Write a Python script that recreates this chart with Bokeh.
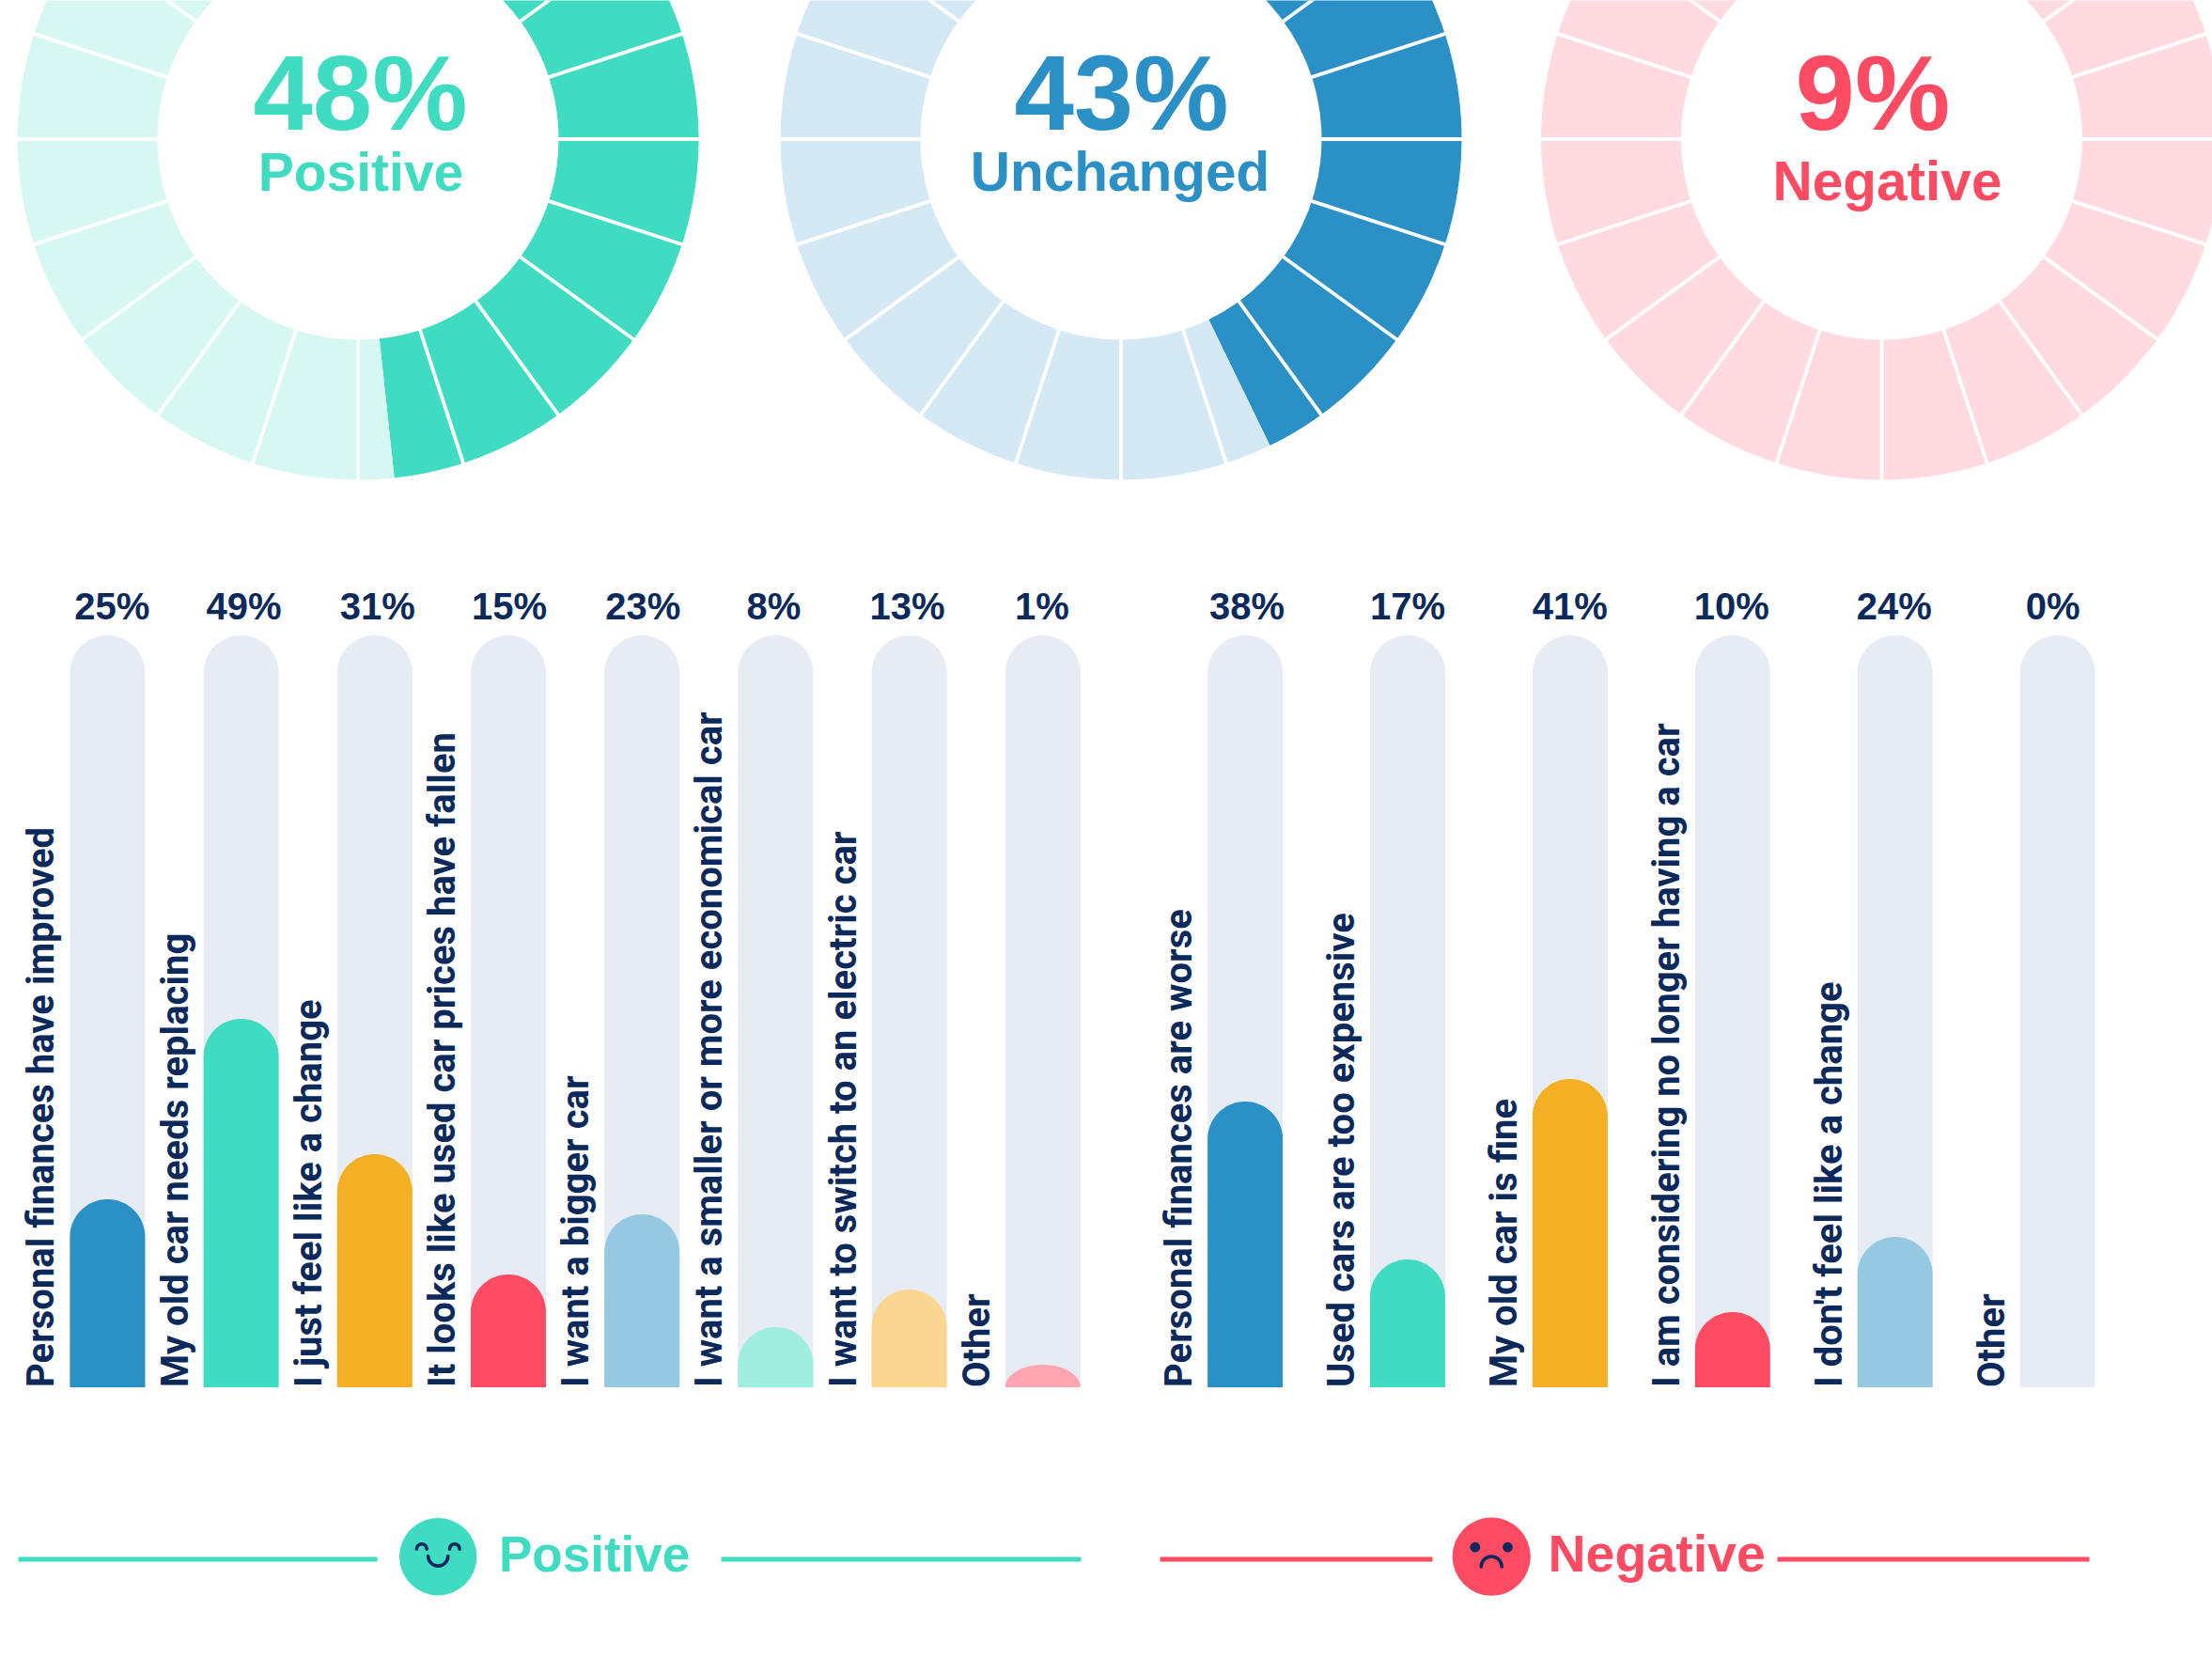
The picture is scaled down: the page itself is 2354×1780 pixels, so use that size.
import numpy as np
from bokeh.plotting import figure
from bokeh.embed import file_html
from bokeh.resources import INLINE
from bokeh.core.properties import value

# ---- data ----
donut_pct = [48.3, 42.8, 9]
donut_names = ["Positive", "Unchanged", "Negative"]
donut_big = ["48%", "43%", "9%"]

pos_labels = ["Personal finances have improved", "My old car needs replacing", "I just feel like a change",
              "It looks like used car prices have fallen", "I want a bigger car",
              "I want a smaller or more economical car", "I want to switch to an electric car", "Other"]
pos_texts = ["25%", "49%", "31%", "15%", "23%", "8%", "13%", "1%"]
pos_heights = [25, 49, 31, 15, 23, 8, 13, 3]

neg_labels = ["Personal finances are worse", "Used cars are too expensive", "My old car is fine",
              "I am considering no longer having a car", "I don't feel like a change", "Other"]
neg_texts = ["38%", "17%", "41%", "10%", "24%", "0%"]
neg_heights = [38, 17, 41, 10, 20, 0]

# ---- styles ----
TEAL, BLUE, RED, NAVY, YEL = "#3FDCC1", "#2B90C5", "#FD4B63", "#0B2A5B", "#F4AF24"
LT = ["#D7F8F2", "#D5E9F5", "#FFDAE0"]
DK = [TEAL, BLUE, RED]
TRACK = "#E7ECF4"
pos_cols = [BLUE, TEAL, YEL, RED, "#97C8E2", "#A0EEDF", "#FAD691", "#FEA5B1"]
neg_cols = [BLUE, TEAL, YEL, RED, "#97C8E2", TRACK]
FONT = value("Liberation Sans")
FONT3 = value("Roboto")
W, H = 2354, 1780
BL = 0.40  # the renderer draws alphabetic text this fraction of its size below the anchor


def Y(v):
    return H - np.asarray(v, dtype=float)


p = figure(width=W, height=H, x_range=(0, W), y_range=(0, H), min_border=0, outline_line_color=None,
           toolbar_location=None, output_backend="svg", x_axis_type=None, y_axis_type=None,
           background_fill_color="white", border_fill_color="white")
p.grid.visible = False


def hlabel(x, base, txt, size, color, align="center", font=FONT):
    p.text([x], Y([base - BL * size]), text=[txt], text_font=font, text_font_style="bold",
           text_font_size=f"{size}px", text_color=color, text_align=align, text_baseline="alphabetic")


# ---- donuts ----
cx = [380.5, 1192.5, 2002.0]
cy = 147.5
R0, R1 = 213.5, 362.5
big_x = [383, 1193, 1992.5]
name_x = [383.5, 1191.5, 2008]
name_base = [205.5, 205.5, 215.5]
name_size = [57, 58.5, 58.5]
for i, pct in enumerate(donut_pct):
    top = np.pi / 2
    split = top - pct / 100 * 2 * np.pi
    p.annular_wedge([cx[i]], Y([cy]), R0, R1, split, top, direction="anticlock", fill_color=DK[i], line_color=None)
    p.annular_wedge([cx[i]], Y([cy]), R0, R1, top, split, direction="anticlock", fill_color=LT[i], line_color=None)
    ang = np.arange(20) * 2 * np.pi / 20
    p.segment(cx[i] + (R0 - 2) * np.cos(ang), Y(cy) + (R0 - 2) * np.sin(ang),
              cx[i] + (R1 + 2) * np.cos(ang), Y(cy) + (R1 + 2) * np.sin(ang),
              line_color="white", line_width=3.8)
    hlabel(big_x[i], 144, donut_big[i], 114, DK[i])
    hlabel(name_x[i], name_base[i], donut_names[i], name_size[i], DK[i])


# ---- bars ----
BASE = 1475.5
PX = 8.0
RAD = 40.0
LAB = 40


def dome(xc, h):
    t = np.linspace(np.pi, 0, 61)
    px_h = h * PX
    ry = min(RAD, px_h)
    xs = [xc - RAD] + list(xc + RAD * np.cos(t)) + [xc + RAD]
    ys = [0.0] + list(px_h - ry + ry * np.sin(t)) + [0.0]
    return xs, list(Y(BASE) + np.array(ys))


def group(x0, step, labels, texts, heights, cols, tdx):
    for k in range(len(labels)):
        xc = x0 + step * k
        xs, ys = dome(xc, 100)
        p.patch(xs, ys, fill_color=TRACK, line_color=None)
        if heights[k] > 0:
            xs, ys = dome(xc, heights[k])
            p.patch(xs, ys, fill_color=cols[k], line_color=None)
        p.text([xc - RAD - 14.5 - BL * LAB], Y([BASE]), text=[labels[k]], angle=np.pi / 2, text_font=FONT3,
               text_font_style="bold", text_font_size=f"{LAB}px", text_color=NAVY,
               text_align="left", text_baseline="alphabetic")
        hlabel(xc + tdx[k], 660, texts[k], 40, NAVY)


group(113.9, 142.2, pos_labels, pos_texts, pos_heights, pos_cols, [5, 3, 3, 1, 1, -2, -2, -1])
group(1324.6, 172.9, neg_labels, neg_texts, neg_heights, neg_cols, [2, 0, 0, -1, -1, -5])

# ---- footer ----
LY = Y(1658.5)
p.segment([19, 767, 1234, 1891], [LY] * 4, [401, 1150, 1524, 2223], [LY] * 4,
          line_color=[TEAL, TEAL, RED, RED], line_width=5)
p.circle([465.7], Y([1655.7]), radius=41.2, fill_color=TEAL, line_color=None)
p.circle([1586.7], Y([1655.7]), radius=41.6, fill_color=RED, line_color=None)
hlabel(530.5, 1673.7, "Positive", 53, TEAL, "left")
hlabel(1647, 1675, "Negative", 55.5, RED, "left")
# faces
p.arc([448.3, 483.3], Y([1647.7, 1647.7]), 5.4, 0, np.pi, line_color=NAVY, line_width=3.6, line_cap="round")
p.arc([465.7], Y([1655]), 10.6, np.pi, 2 * np.pi, line_color=NAVY, line_width=3.6, line_cap="round")
p.circle([1569.3, 1604], Y([1645.7, 1645.7]), radius=5.4, fill_color=NAVY, line_color=None)
p.arc([1586.7], Y([1666.5]), 11, 0, np.pi, line_color=NAVY, line_width=3.6, line_cap="round")

open("out.html", "w").write(file_html(p, INLINE))
